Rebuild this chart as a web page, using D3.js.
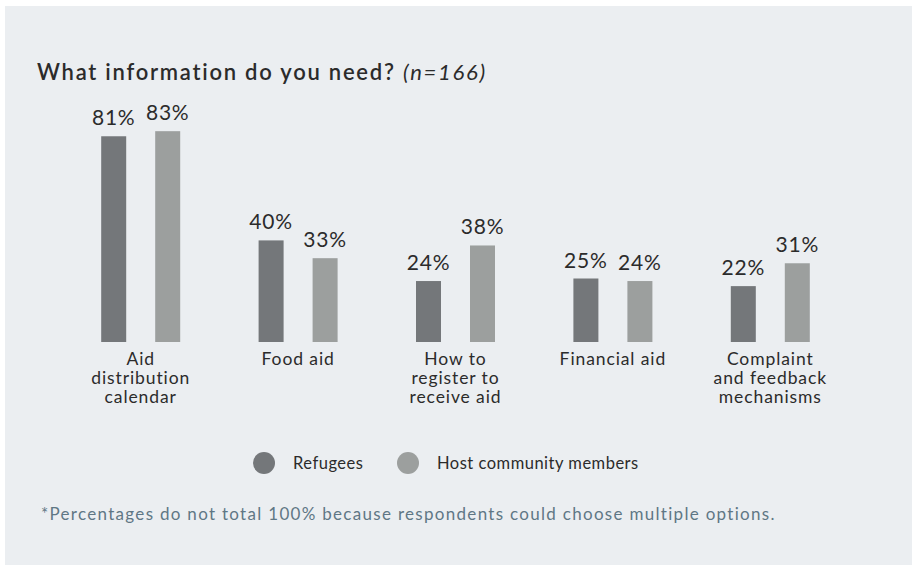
<!DOCTYPE html>
<html>
<head>
<meta charset="utf-8">
<script src="https://cdn.jsdelivr.net/npm/d3@7"></script>
<style>
  html, body { margin: 0; padding: 0; background: #ffffff; }
  svg { display: block; }
  text { font-family: Lato, "Open Sans", sans-serif; }
</style>
</head>
<body>
<svg id="chart" width="914" height="566"></svg>
<script>
// Categories (one line per wrapped row) and shares answered per group
const categories = [
  ["Aid", "distribution", "calendar"],
  ["Food aid"],
  ["How to", "register to", "receive aid"],
  ["Financial aid"],
  ["Complaint", "and feedback", "mechanisms"]
];
const refugees = [81, 40, 24, 25, 22];
const hostCommunity = [83, 33, 38, 24, 31];
const seriesNames = ["Refugees", "Host community members"];
const seriesColors = ["#74777a", "#9c9f9e"];

const svg = d3.select("#chart");

// Panel background
svg.append("rect")
  .attr("x", 5).attr("y", 6).attr("width", 907).attr("height", 559)
  .attr("fill", "#ebeef1");

// Title
const title = svg.append("text")
  .attr("x", 37).attr("y", 80)
  .attr("fill", "#2b2b2b")
  .style("font-size", "22px")
  .style("letter-spacing", "1.75px");
title.append("tspan").style("font-weight", 600).text("What information do you need? ");
title.append("tspan").style("font-style", "italic").style("font-weight", 400).text("(n=166)");

// Scales
const x = d3.scaleBand()
  .domain(d3.range(categories.length))
  .range([62, 849]);
const sub = d3.scaleBand()
  .domain([0, 1])
  .range([-39.5, 39.5])
  .paddingInner(29 / 54);
const y = d3.scaleLinear().domain([0, 100]).range([342, 88]);

const series = [refugees, hostCommunity];

const groups = svg.append("g").selectAll("g")
  .data(categories)
  .join("g")
  .attr("transform", (d, i) => `translate(${x(i) + x.bandwidth() / 2},0)`);

series.forEach((vals, s) => {
  groups.append("rect")
    .attr("x", sub(s))
    .attr("width", sub.bandwidth())
    .attr("y", (d, i) => y(vals[i]))
    .attr("height", (d, i) => y(0) - y(vals[i]))
    .attr("fill", seriesColors[s]);

  groups.append("text")
    .attr("x", sub(s) + sub.bandwidth() / 2)
    .attr("y", (d, i) => y(vals[i]) - 11)
    .attr("text-anchor", "middle")
    .attr("fill", "#2b2b2b")
    .style("font-size", "21px")
    .style("letter-spacing", "0.8px")
    .text((d, i) => vals[i] + "%");
});

// Category labels, one tspan per wrapped row
groups.append("text")
  .attr("text-anchor", "middle")
  .attr("fill", "#2b2b2b")
  .style("font-size", "17.5px")
  .style("letter-spacing", "0.9px")
  .selectAll("tspan")
  .data(d => d)
  .join("tspan")
  .attr("x", 0)
  .attr("y", (d, j) => 365 + j * 19)
  .text(d => d);

// Legend
const legendX = [264, 408];
const legend = svg.append("g").selectAll("g")
  .data(seriesNames)
  .join("g")
  .attr("transform", (d, i) => `translate(${legendX[i]},463)`);
legend.append("circle").attr("r", 11).attr("fill", (d, i) => seriesColors[i]);
legend.append("text")
  .attr("x", 29).attr("y", 6)
  .attr("fill", "#2b2b2b")
  .style("font-size", "16.5px")
  .style("letter-spacing", "0.5px")
  .text(d => d);

// Footnote
svg.append("text")
  .attr("x", 41).attr("y", 520)
  .attr("fill", "#5f7785")
  .style("font-size", "17px")
  .style("letter-spacing", "1.3px")
  .text("*Percentages do not total 100% because respondents could choose multiple options.");
</script>
</body>
</html>
